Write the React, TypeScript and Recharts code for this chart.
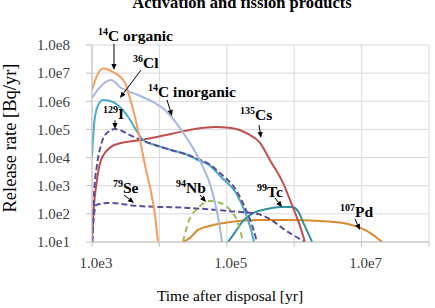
import React from 'react';
import { LineChart, Line, XAxis, YAxis, CartesianGrid, ReferenceLine, ReferenceDot } from 'recharts';

const FONT = "'Liberation Serif', 'Times New Roman', serif";

const xTicks = [1e3, 1e4, 1e5, 1e6, 1e7, 1e8];
const xTickLabels = ['1.0e3', '', '1.0e5', '', '1.0e7', ''];
const yTicks = [1e1, 1e2, 1e3, 1e4, 1e5, 1e6, 1e7, 1e8];
const yTickLabels = ['1.0e1', '1.0e2', '1.0e3', '1.0e4', '1.0e5', '1.0e6', '1.0e7', '1.0e8'];

// 14C organic
const c14OrgT = [1000, 1146, 1456, 1728, 2049, 3087, 3663, 4345, 5333, 6327, 7255, 8604, 9533];
const c14OrgV = [2.5e6, 6.7e6, 1.45e7, 1.35e7, 1.1e7, 4.5e6, 1.26e6, 2.75e5, 2.8e4, 3.6e3, 890, 91, 10];
// 14C inorganic
const c14InorgT = [1000, 1315, 1914, 2694, 4814, 8604, 12110, 15920, 26560, 41420, 58290, 74040, 84890];
const c14InorgV = [1.31e6, 3.2e6, 5.7e6, 3.0e6, 1.67e6, 8.7e5, 4.9e5, 2.35e5, 4.2e4, 6.5e3, 890, 78, 10];
// 36Cl
const cl36T = [1000, 1071, 1186, 1456, 2049, 2694, 3663, 4497, 5712, 8604, 14860, 26560, 37390, 54440, 82030, 136900, 186200, 228600, 253300];
const cl36V = [1.05e4, 1.4e5, 5.7e5, 1.1e6, 9.4e5, 5.7e5, 2.2e5, 9.5e4, 4.2e4, 2.8e4, 1.87e4, 1.23e4, 8.1e3, 5.5e3, 2.05e3, 550, 117, 27, 10];
// 129I
const i129T = [1017, 1071, 1186, 1360, 1660, 2194, 2787, 3663, 5333, 8604, 14860, 26560, 37390, 54440, 82030, 136900, 192700, 244800, 280700];
const i129V = [10, 468, 5.4e3, 2.8e4, 7.5e4, 1.03e5, 8.8e4, 6.3e4, 4.2e4, 2.8e4, 1.87e4, 1.23e4, 8.9e3, 5.9e3, 2.6e3, 703, 137, 31, 10];
// 135Cs
const cs135T = [1000, 1071, 1146, 1360, 1914, 2694, 5333, 14860, 33750, 66810, 115400, 206400, 310900, 437500, 682100, 927700, 1178000, 1446000];
const cs135V = [10, 205, 890, 8.1e3, 2.4e4, 3.3e4, 4.2e4, 6.9e4, 1.04e5, 1.22e5, 1.13e5, 6.9e4, 3.3e4, 8.1e3, 1.26e3, 205, 47, 10];
// 79Se
const se79T = [1000, 1071, 1146, 1728, 4814, 26560, 104200, 280700, 437500, 682100, 1028000, 1446000];
const se79V = [10, 91, 205, 245, 190, 163, 126, 100, 65, 30, 16, 10];
// 94Nb
const nb94T = [22390, 26560, 37390, 56330, 74040, 111500, 146600, 173900];
const nb94V = [10, 47, 163, 285, 260, 138, 47, 10];
// 107Pd
const pd107T = [22390, 28440, 37390, 56330, 111500, 280700, 866300, 2415000, 4780000, 7980000, 11230000, 14760000, 20080000];
const pd107V = [10, 14, 27, 37, 51, 60, 60, 56, 49, 37, 27, 18, 10];
// 99Tc
const tc99T = [104200, 132300, 168100, 244800, 394800, 615500, 927700, 1139000, 1351000, 1602000, 1837000];
const tc99V = [10, 22, 51, 107, 148, 174, 174, 126, 51, 21, 10];

const zip = (ts: number[], vs: number[]) => ts.map((t, i) => ({ t, v: vs[i] }));

const series = [
  { key: 'pd107', data: zip(pd107T, pd107V), color: '#D98A2E', dash: undefined },
  { key: 'tc99', data: zip(tc99T, tc99V), color: '#2E93A3', dash: undefined },
  { key: 'nb94', data: zip(nb94T, nb94V), color: '#9BBB59', dash: '6 4' },
  { key: 'se79', data: zip(se79T, se79V), color: '#5E4E9A', dash: '6 3' },
  { key: 'cs135', data: zip(cs135T, cs135V), color: '#C0504D', dash: undefined },
  { key: 'cl36', data: zip(cl36T, cl36V), color: '#4BACC6', dash: undefined },
  { key: 'i129', data: zip(i129T, i129V), color: '#5E4E9A', dash: '6 3' },
  { key: 'c14inorg', data: zip(c14InorgT, c14InorgV), color: '#A7B8DC', dash: undefined },
  { key: 'c14org', data: zip(c14OrgT, c14OrgV), color: '#F79B5E', dash: undefined },
];

// annotation labels (data coordinates)
const annotMass = ['14', '36', '14', '129', '135', '79', '94', '99', '107'];
const annotName = ['C organic', 'Cl', 'C inorganic', 'I', 'Cs', 'Se', 'Nb', 'Tc', 'Pd'];
const annotT = [1227, 4055, 6776, 1456, 157000, 2050, 17620, 280600, 4790000];
const annotV = [1.39e8, 1.52e7, 1.42e6, 2.34e5, 2.16e5, 551, 551, 397, 77.3];
const arrowFromT = [2119, 5333, 12970, 2193, 300600, 2985, 40000, 518600, 7980000];
const arrowFromV = [1.085e8, 1.29e7, 1.11e6, 2.1e5, 1.44e5, 468, 468, 366, 65.6];
const arrowToT = [2119, 2600, 15380, 2193, 321700, 4198, 49090, 659000, 9460000];
const arrowToV = [1.29e7, 1.31e6, 3.0e5, 1.03e5, 4.95e4, 243, 264, 175, 26.7];

const Arrow = (props: any) => {
  const { x1, y1, x2, y2 } = props;
  const ang = Math.atan2(y2 - y1, x2 - x1);
  const L = 6;
  const W = 2.6;
  const bx = x2 - L * Math.cos(ang);
  const by = y2 - L * Math.sin(ang);
  const p1x = bx + W * Math.sin(ang);
  const p1y = by - W * Math.cos(ang);
  const p2x = bx - W * Math.sin(ang);
  const p2y = by + W * Math.cos(ang);
  return (
    <g>
      <line x1={x1} y1={y1} x2={bx} y2={by} stroke="#000" strokeWidth={1} />
      <polygon points={`${x2},${y2} ${p1x},${p1y} ${p2x},${p2y}`} fill="#000" />
    </g>
  );
};

const makeLabel = (mass: string, name: string) => (props: any) => {
  const { cx, cy } = props;
  return (
    <text x={cx} y={cy} fontFamily={FONT} fontWeight="bold" fontSize={15.5} fill="#000">
      <tspan fontSize={10} dy={-6}>{mass}</tspan>
      <tspan dy={6}>{name}</tspan>
    </text>
  );
};

const fmtX = (v: number) => {
  const i = xTicks.findIndex((t) => Math.abs(Math.log10(t) - Math.log10(v)) < 1e-6);
  return i >= 0 ? xTickLabels[i] : '';
};
const fmtY = (v: number) => {
  const i = yTicks.findIndex((t) => Math.abs(Math.log10(t) - Math.log10(v)) < 1e-6);
  return i >= 0 ? yTickLabels[i] : '';
};

export default function App() {
  return (
    <div style={{ position: 'absolute', left: 0, top: 0, width: 435, height: 308, background: '#fff' }}>
      <LineChart width={435} height={308} margin={{ top: 45, right: 6, bottom: 0, left: 0 }}>
        <CartesianGrid stroke="#D9D9D9" strokeWidth={1} />
        <XAxis
          type="number"
          dataKey="t"
          scale="log"
          domain={[1e3, 1e8]}
          allowDataOverflow
          ticks={xTicks}
          interval={0}
          tickFormatter={fmtX}
          height={66}
          tickSize={5}
          tickMargin={10}
          axisLine={{ stroke: '#BFBFBF' }}
          tickLine={{ stroke: '#BFBFBF' }}
          tick={{ fontSize: 15, fill: '#404040', fontFamily: FONT, dx: 4 }}
        />
        <YAxis
          type="number"
          scale="log"
          domain={[10, 1e8]}
          allowDataOverflow
          ticks={yTicks}
          interval={0}
          tickFormatter={fmtY}
          width={92}
          tickSize={6}
          tickMargin={16}
          axisLine={{ stroke: '#BFBFBF' }}
          tickLine={{ stroke: '#BFBFBF' }}
          tick={{ fontSize: 15, fill: '#404040', fontFamily: FONT }}
        />
        {series.map((s) => (
          <Line
            key={s.key}
            data={s.data}
            dataKey="v"
            type="monotone"
            stroke={s.color}
            strokeWidth={2}
            strokeDasharray={s.dash}
            dot={false}
            activeDot={false}
            isAnimationActive={false}
          />
        ))}
        {annotName.map((n, i) => (
          <ReferenceLine
            key={'a' + i}
            segment={[{ x: arrowFromT[i], y: arrowFromV[i] }, { x: arrowToT[i], y: arrowToV[i] }]}
            ifOverflow="visible"
            shape={Arrow}
          />
        ))}
        {annotName.map((n, i) => (
          <ReferenceDot
            key={'t' + i}
            x={annotT[i]}
            y={annotV[i]}
            ifOverflow="visible"
            shape={makeLabel(annotMass[i], n)}
          />
        ))}
      </LineChart>
      <svg width={435} height={308} style={{ position: 'absolute', left: 0, top: 0, pointerEvents: 'none' }}>
        <text x={242} y={8} textAnchor="middle" fontFamily={FONT} fontWeight="bold" fontSize={16.5} fill="#000">
          Activation and fission products
        </text>
        <text x={230} y={301} textAnchor="middle" fontFamily={FONT} fontSize={15.5} fill="#000">
          Time after disposal [yr]
        </text>
        <text
          x={0}
          y={0}
          transform="translate(16,138) rotate(-90)"
          textAnchor="middle"
          fontFamily={FONT}
          fontSize={18.5}
          fill="#000"
        >
          Release rate [Bq/yr]
        </text>
      </svg>
    </div>
  );
}
